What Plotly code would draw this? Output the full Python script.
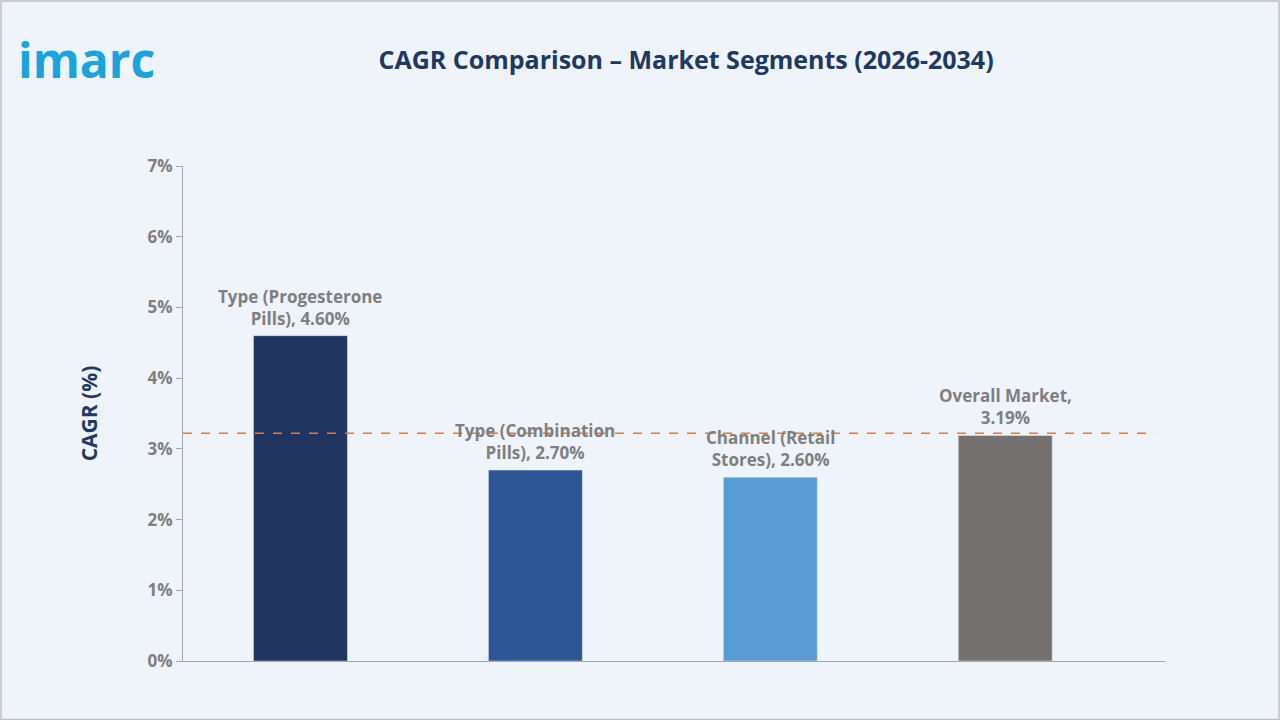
import plotly.graph_objects as go

labels = ["Type (Progesterone<br>Pills), 4.60%", "Type (Combination<br>Pills), 2.70%",
          "Channel (Retail<br>Stores), 2.60%", "Overall Market,<br>3.19%"]
values = [4.60, 2.70, 2.60, 3.19]
colors = ["#1f3560", "#2d5696", "#5b9bd5", "#767171"]
overall = 3.19
yticks = [0, 1, 2, 3, 4, 5, 6, 7]

x = list(range(len(values)))
fig = go.Figure(go.Bar(x=x, y=values, marker_color=colors, width=0.4))

for xi, v, t in zip(x, values, labels):
    fig.add_annotation(x=xi, y=v, yshift=4, text=f"<b>{t}</b>", showarrow=False,
                       yanchor="bottom", font=dict(size=17, color="#7f7f7f"))

fig.update_layout(
    width=1280, height=720,
    paper_bgcolor="#eff3fa", plot_bgcolor="#eff3fa",
    margin=dict(l=183, r=115, t=166, b=59),
    showlegend=False,
    font=dict(family="Open Sans", color="#7f7f7f"),
    title=dict(text="<b>CAGR Comparison – Market Segments (2026-2034)</b>", x=0.536, y=0.917,
               xanchor="center", yanchor="middle", font=dict(size=25, color="#203864")),
    xaxis=dict(range=[-0.5, 3.68], showticklabels=False, showgrid=False,
               showline=True, linecolor="#a6a6a6", zeroline=False),
    yaxis=dict(range=[0, 7], tickvals=yticks, ticktext=[f"<b>{v}%</b>" for v in yticks],
               showgrid=False, showline=True, linecolor="#a6a6a6", ticks="outside",
               ticklen=6, tickcolor="#a6a6a6", zeroline=False,
               tickfont=dict(size=17, color="#7f7f7f"),
               title=dict(text="<b>CAGR (%)</b>", font=dict(size=21, color="#203864"), standoff=44)),
)
fig.add_shape(type="line", xref="paper", yref="y", x0=0, x1=0.99, y0=overall + 0.03, y1=overall + 0.03,
              line=dict(color="#e07b39", width=1.5, dash="dash"))
fig.add_shape(type="rect", xref="paper", yref="paper", x0=-0.1853, x1=1.1161, y0=-0.1182, y1=1.3333,
              line=dict(color="#bfbfbf", width=1.5, dash="solid"), layer="below")
fig.add_annotation(xref="paper", yref="paper", x=-0.17, y=1.285, xanchor="left", yanchor="top",
                   text="<b>imarc</b>", showarrow=False,
                   font=dict(size=48, color="#1aa3dc", family="Open Sans"))
fig.write_html("out.html", config={"displayModeBar": False},
               post_script="document.body.style.margin='0';")
